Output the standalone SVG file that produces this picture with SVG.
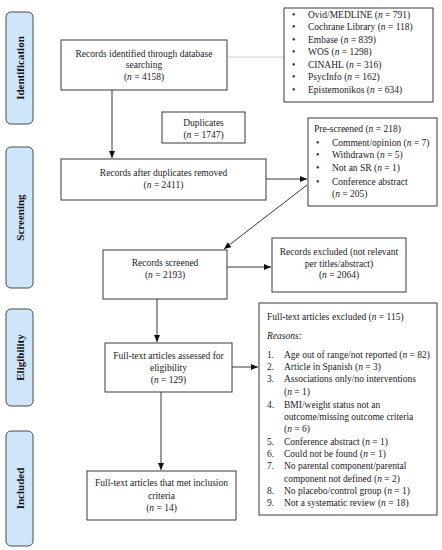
<svg xmlns="http://www.w3.org/2000/svg" width="442" height="550" viewBox="0 0 442 550">
<defs>
<style>
text{font-family:"Liberation Serif","Times New Roman",serif;font-size:9.5px;fill:#222}
.c{text-anchor:middle}
.i{font-style:italic}
.box{fill:#fff;stroke:#3a3a3a;stroke-width:1}
.phase{fill:#cfe6fa;stroke:#4a4a4a;stroke-width:1}
.pt{font-size:11px;font-weight:bold;text-anchor:middle;fill:#111}
.ln{stroke:#222;stroke-width:0.9;fill:none}
.gl{stroke:#cfcfcf;stroke-width:1;fill:none}
</style>
<marker id="ah" markerUnits="userSpaceOnUse" markerWidth="8" markerHeight="7" refX="7" refY="3" orient="auto">
<path d="M0,0 L7,3 L0,6 z" fill="#111"/>
</marker>
</defs>
<rect width="442" height="550" fill="#fff"/>

<g id="phase-identification">
<rect class="phase" x="6" y="12" width="27" height="112" rx="5"/>
<text class="pt" transform="translate(23.5,68) rotate(-90)">Identification</text>
</g>
<g id="phase-screening">
<rect class="phase" x="6" y="147" width="27" height="141" rx="5"/>
<text class="pt" transform="translate(23.5,217.5) rotate(-90)">Screening</text>
</g>
<g id="phase-eligibility">
<rect class="phase" x="6" y="309" width="27" height="97" rx="5"/>
<text class="pt" transform="translate(23.5,357.5) rotate(-90)">Eligibility</text>
</g>
<g id="phase-included">
<rect class="phase" x="6" y="431" width="27" height="115" rx="5"/>
<text class="pt" transform="translate(23.5,488.5) rotate(-90)">Included</text>
</g>

<g id="connectors">
<line class="gl" x1="227" y1="57" x2="284" y2="57"/>
<line class="ln" x1="112" y1="90" x2="112" y2="158" marker-end="url(#ah)"/>
<line class="ln" x1="266" y1="179" x2="307" y2="179" marker-end="url(#ah)"/>
<line class="ln" x1="307" y1="185" x2="224" y2="249" marker-end="url(#ah)"/>
<line class="ln" x1="227" y1="267" x2="271" y2="267" marker-end="url(#ah)"/>
<line class="ln" x1="157" y1="299" x2="157" y2="342" marker-end="url(#ah)"/>
<line class="ln" x1="232" y1="367" x2="258" y2="367" marker-end="url(#ah)"/>
<line class="ln" x1="161" y1="392" x2="161" y2="470" marker-end="url(#ah)"/>
</g>

<g id="records-identified">
<rect class="box" x="61" y="40" width="166" height="50"/>
<text class="c" x="144" y="57">Records identified through database</text>
<text class="c" x="144" y="68">searching</text>
<text class="c" x="144" y="79.5">(<tspan class="i">n</tspan> = 4158)</text>
</g>

<g id="databases">
<rect class="box" x="284" y="8" width="149" height="94"/>
<g>
<text x="292" y="17.5">•</text><text x="308" y="17.5">Ovid/MEDLINE (<tspan class="i">n</tspan> = 791)</text>
<text x="292" y="30">•</text><text x="308" y="30">Cochrane Library (<tspan class="i">n</tspan> = 118)</text>
<text x="292" y="42.5">•</text><text x="308" y="42.5">Embase (<tspan class="i">n</tspan> = 839)</text>
<text x="292" y="55">•</text><text x="308" y="55">WOS (<tspan class="i">n</tspan> = 1298)</text>
<text x="292" y="67.5">•</text><text x="308" y="67.5">CINAHL (<tspan class="i">n</tspan> = 316)</text>
<text x="292" y="80">•</text><text x="308" y="80">PsycInfo (<tspan class="i">n</tspan> = 162)</text>
<text x="292" y="92.5">•</text><text x="308" y="92.5">Epistemonikos (<tspan class="i">n</tspan> = 634)</text>
</g>
</g>

<g id="duplicates">
<rect class="box" x="162" y="112" width="83" height="31"/>
<text class="c" x="203.5" y="126">Duplicates</text>
<text class="c" x="203.5" y="138">(<tspan class="i">n</tspan> = 1747)</text>
</g>

<g id="after-duplicates">
<rect class="box" x="61" y="159" width="205" height="41"/>
<text class="c" x="163.5" y="176">Records after duplicates removed</text>
<text class="c" x="163.5" y="188">(<tspan class="i">n</tspan> = 2411)</text>
</g>

<g id="pre-screened">
<rect class="box" x="308" y="118" width="129" height="88"/>
<text x="314" y="132">Pre-screened (<tspan class="i">n</tspan> = 218)</text>
<text x="316" y="146">•</text><text x="332" y="146">Comment/opinion (<tspan class="i">n</tspan> = 7)</text>
<text x="316" y="158">•</text><text x="332" y="158">Withdrawn (<tspan class="i">n</tspan> = 5)</text>
<text x="316" y="171">•</text><text x="332" y="171">Not an SR (<tspan class="i">n</tspan> = 1)</text>
<text x="316" y="184.5">•</text><text x="332" y="184.5">Conference abstract</text>
<text x="332" y="196.5">(<tspan class="i">n</tspan> = 205)</text>
</g>

<g id="records-screened">
<rect class="box" x="103" y="250" width="124" height="49"/>
<text class="c" x="165" y="266">Records screened</text>
<text class="c" x="165" y="278">(<tspan class="i">n</tspan> = 2193)</text>
</g>

<g id="records-excluded">
<rect class="box" x="272" y="238" width="134" height="54"/>
<text class="c" x="339" y="255">Records excluded (not relevant</text>
<text class="c" x="339" y="266.5">per titles/abstract)</text>
<text class="c" x="339" y="278">(<tspan class="i">n</tspan> = 2064)</text>
</g>

<g id="fulltext-assessed">
<rect class="box" x="105" y="343" width="127" height="49"/>
<text class="c" x="168.5" y="359">Full-text articles assessed for</text>
<text class="c" x="168.5" y="371">eligibility</text>
<text class="c" x="168.5" y="382.5">(<tspan class="i">n</tspan> = 129)</text>
</g>

<g id="fulltext-excluded">
<rect class="box" x="259" y="303" width="178" height="212"/>
<text x="267" y="320">Full-text articles excluded (<tspan class="i">n</tspan> = 115)</text>
<text x="267" y="339" class="i">Reasons:</text>
<text x="267" y="358">1.</text><text x="284" y="358">Age out of range/not reported (<tspan class="i">n</tspan> = 82)</text>
<text x="267" y="370">2.</text><text x="284" y="370">Article in Spanish (<tspan class="i">n</tspan> = 3)</text>
<text x="267" y="382">3.</text><text x="284" y="382">Associations only/no interventions</text>
<text x="284" y="395">(<tspan class="i">n</tspan> = 1)</text>
<text x="267" y="408">4.</text><text x="284" y="408">BMI/weight status not an</text>
<text x="284" y="420">outcome/missing outcome criteria</text>
<text x="284" y="432">(<tspan class="i">n</tspan> = 6)</text>
<text x="267" y="445">5.</text><text x="284" y="445">Conference abstract (<tspan class="i">n</tspan> = 1)</text>
<text x="267" y="456.5">6.</text><text x="284" y="456.5">Could not be found (<tspan class="i">n</tspan> = 1)</text>
<text x="267" y="469">7.</text><text x="284" y="469">No parental component/parental</text>
<text x="284" y="482">component not defined (<tspan class="i">n</tspan> = 2)</text>
<text x="267" y="494">8.</text><text x="284" y="494">No placebo/control group (<tspan class="i">n</tspan> = 1)</text>
<text x="267" y="506">9.</text><text x="284" y="506">Not a systematic review (<tspan class="i">n</tspan> = 18)</text>
</g>

<g id="included">
<rect class="box" x="87" y="471" width="149" height="49"/>
<text class="c" x="161.5" y="486">Full-text articles that met inclusion</text>
<text class="c" x="161.5" y="499">criteria</text>
<text class="c" x="161.5" y="511">(<tspan class="i">n</tspan> = 14)</text>
</g>
</svg>
